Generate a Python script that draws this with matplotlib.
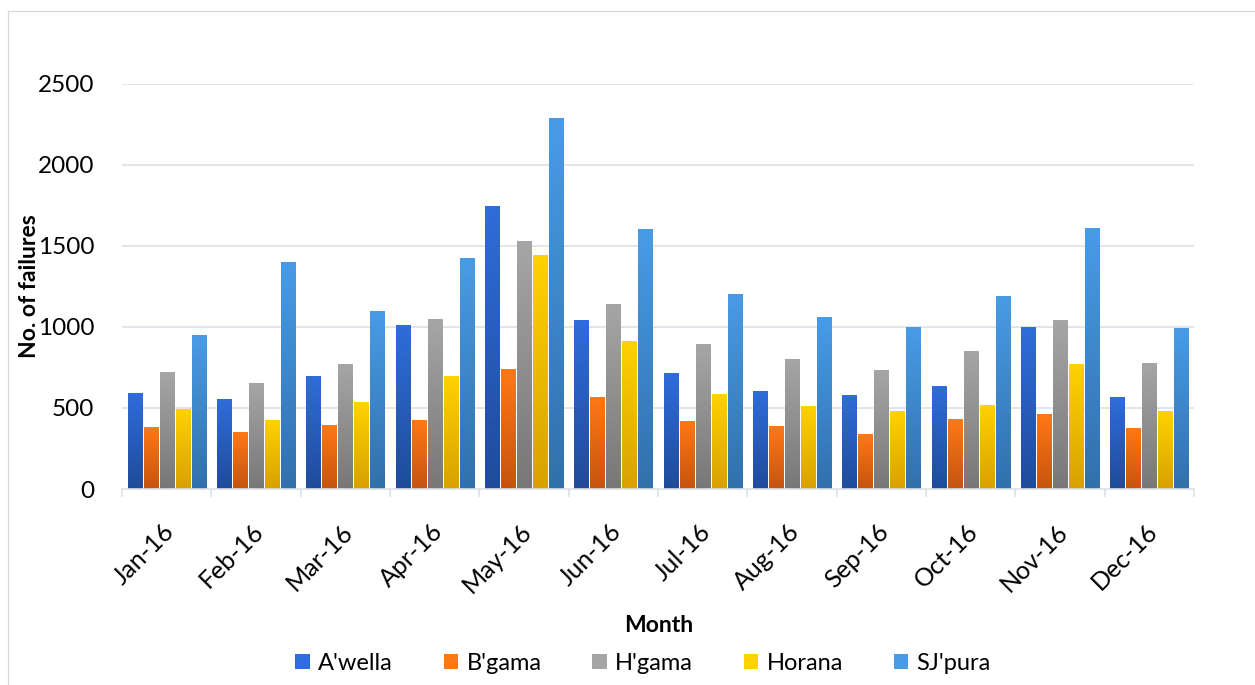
import numpy as np
import matplotlib
matplotlib.use("Agg")
import matplotlib.pyplot as plt
from matplotlib.colors import LinearSegmentedColormap
from matplotlib.lines import Line2D
from matplotlib.patches import Patch
from matplotlib.transforms import ScaledTranslation

months = ["Jan-16", "Feb-16", "Mar-16", "Apr-16", "May-16", "Jun-16",
          "Jul-16", "Aug-16", "Sep-16", "Oct-16", "Nov-16", "Dec-16"]
series_names = ["A'wella", "B'gama", "H'gama", "Horana", "SJ'pura"]
awella = [591, 554, 696, 1011, 1746, 1042, 714, 603, 579, 634, 999, 566]
bgama = [381, 350, 393, 424, 739, 566, 418, 387, 338, 430, 461, 375]
hgama = [721, 653, 770, 1048, 1530, 1141, 894, 801, 733, 850, 1042, 776]
horana = [492, 424, 535, 696, 1443, 912, 585, 511, 480, 517, 770, 480]
sjpura = [949, 1400, 1097, 1425, 2290, 1604, 1202, 1060, 999, 1190, 1610, 992]
series_values = [awella, bgama, hgama, horana, sjpura]
yticks = [0, 500, 1000, 1500, 2000, 2500]

# gradient (top, bottom) colours per series
grad_colors = [("#2F6DDA", "#1F4B9A"),
               ("#FF7816", "#C5540F"),
               ("#A6A6A6", "#777777"),
               ("#FFD200", "#D9A000"),
               ("#489CE6", "#3170AC")]

FONT = "Lato"
plt.rcParams["font.family"] = [FONT, "DejaVu Sans"]

fig = plt.figure(figsize=(12.55, 6.85), dpi=100)
W, H = 1255, 685
ax = fig.add_axes([122 / W, 1 - 489 / H, (1194 - 122) / W, (489 - 84) / H])

x = np.arange(len(months))
pitch = 16 / 89.33
bw = 14 / 89.33
offsets = (np.arange(5) - 2) * pitch

grad = np.linspace(0, 1, 256).reshape(-1, 1)
for i, (name, vals) in enumerate(zip(series_names, series_values)):
    top, bot = grad_colors[i]
    cmap = LinearSegmentedColormap.from_list(name, [bot, top])
    bars = ax.bar(x + offsets[i], vals, width=bw, facecolor="none",
                  edgecolor="none", zorder=3)
    for b in bars:
        x0, w, h = b.get_x(), b.get_width(), b.get_height()
        # soft shadow
        ax.bar(x0 + w / 2 + 0.012, h, width=w, bottom=-6, color="#000000",
               alpha=0.06, zorder=2, linewidth=0)
        im = ax.imshow(grad, extent=[x0, x0 + w, 0, h], origin="lower",
                       cmap=cmap, aspect="auto", zorder=3,
                       interpolation="bilinear")
        im.set_clip_path(b)

ax.set_xlim(-0.5, len(months) - 0.5)
ax.set_ylim(0, 2500)
ax.set_aspect("auto")

grid_c = "#DDE1E6"
ax.set_yticks(yticks)
ax.set_yticklabels([str(v) for v in yticks], fontsize=17.5, color="#000000")
ax.tick_params(axis="y", length=0, pad=20)
for v in yticks[1:]:
    ax.axhline(v, color=grid_c, lw=1.2, zorder=1)

ax.set_xticks(x)
ax.set_xticklabels(months, rotation=45, ha="right", va="center",
                   rotation_mode="anchor", fontsize=18)
ax.tick_params(axis="x", which="major", length=0, pad=28)
shift = ScaledTranslation(4 / 100, 0, fig.dpi_scale_trans)
for lab in ax.get_xticklabels():
    lab.set_transform(lab.get_transform() + shift)
ax.set_xticks(np.arange(-0.5, len(months)), minor=True)
ax.tick_params(axis="x", which="minor", length=6, width=1.2, color=grid_c,
               direction="out")

for s in ["top", "right", "left"]:
    ax.spines[s].set_visible(False)
ax.spines["bottom"].set_color(grid_c)
ax.spines["bottom"].set_linewidth(1.2)
ax.spines["bottom"].set_zorder(4)

ax.set_ylabel("No. of failures", fontsize=16.5, fontweight="bold")
ax.yaxis.set_label_coords((40 - 122) / (1194 - 122), 0.5)

fig.text(659 / W, 1 - 625 / H, "Month", fontsize=16.5, fontweight="bold",
         ha="center", va="center")

handles = [Patch(facecolor=grad_colors[i][0], edgecolor="none")
           for i in range(5)]
leg = fig.legend(handles, series_names, loc="center", ncol=5,
                 bbox_to_anchor=(643 / W, 1 - 663 / H), frameon=False,
                 fontsize=17, handlelength=0.62, handleheight=0.62,
                 handletextpad=0.35, columnspacing=2.15, borderpad=0.1)

# chart area border (top and left edges visible)
fig.add_artist(Line2D([7.5 / W, 1], [1 - 11 / H, 1 - 11 / H],
                      transform=fig.transFigure, color="#D9D9D9", lw=0.9))
fig.add_artist(Line2D([7.5 / W, 7.5 / W], [0, 1 - 11 / H],
                      transform=fig.transFigure, color="#D9D9D9", lw=0.9))

fig.savefig("out.png", dpi=100)
